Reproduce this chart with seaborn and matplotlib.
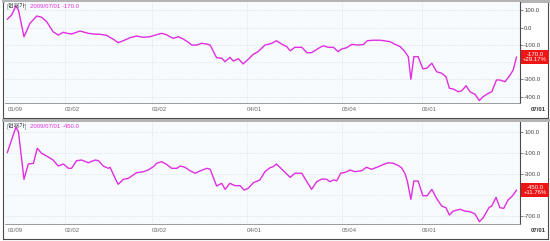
import numpy as np
import pandas as pd
import matplotlib
matplotlib.use("Agg")
import matplotlib.pyplot as plt
import seaborn as sns
from matplotlib.patches import Rectangle

sns.set_theme(style="white")
plt.rcParams['font.family'] = ['Liberation Sans', 'Noto Sans CJK KR', 'DejaVu Sans']

# ---------------- data ----------------
header_label = "[현재가]"
header_date = "2009/07/01"

month_ticks = [0, 13.5, 33.8, 56.0, 78.2, 96.9]
month_labels = ["01/09", "02/02", "03/02", "04/01", "05/04", "06/01"]
end_label = "07/01"

top_day = [0.0, 1.0, 2.0, 2.6, 3.9, 5.3, 6.9, 8.0, 9.2, 10.7, 11.9, 13.1, 13.9, 15.0, 17.0,
           18.9, 20.1, 21.7, 23.2, 24.8, 25.9, 27.1, 28.7, 30.2, 31.8, 33.3, 34.9, 36.1, 37.2,
           38.0, 38.8, 40.0, 41.1, 42.3, 43.1, 44.3, 45.4, 46.6, 47.4, 48.9, 50.1, 50.9, 52.0,
           52.8, 54.0, 55.1, 56.3, 57.5, 58.6, 60.2, 61.8, 62.9, 64.1, 65.3, 66.1, 67.2, 68.8,
           70.0, 71.1, 72.7, 73.8, 75.0, 76.2, 77.3, 78.1, 79.3, 80.5, 82.0, 83.3, 84.1, 85.5,
           87.1, 88.3, 89.4, 90.6, 91.8, 92.9, 93.7, 94.3, 95.0, 96.0, 97.1, 98.0, 99.2, 100.3,
           101.5, 102.5, 103.3, 104.2, 105.4, 106.2, 107.2, 108.1, 109.3, 110.3, 111.2, 112.4,
           113.2, 114.3, 115.1, 116.3, 117.5, 118.2, 119.0]
top_val = [48, 73, 125, 102, -53, 25, 67, 60, 34, -24, -43, -27, -33, -37, -20,
           -33, -37, -39, -45, -68, -87, -76, -58, -49, -56, -53, -41, -33, -41,
           -53, -62, -53, -66, -85, -101, -101, -91, -95, -101, -174, -177, -197, -172,
           -193, -180, -210, -183, -154, -139, -101, -91, -76, -95, -110, -134, -114, -114,
           -145, -145, -120, -105, -114, -114, -139, -124, -116, -97, -101, -97, -76, -73,
           -73, -77, -81, -97, -110, -139, -168, -299, -168, -168, -239, -235, -206, -255,
           -264, -284, -351, -355, -371, -365, -336, -371, -386, -422, -399, -380,
           -371, -303, -303, -313, -274, -245, -170]
top_yticks = [100, 0, -100, -200, -300, -400]
top_hidden = [-200]          # label covered by the last-value box
top_ylim = (-436, 148)
top_last = "-170.0"
top_pct = "+29.17%"

bot_day = [0.0, 1.0, 2.0, 2.6, 3.9, 4.9, 6.1, 7.0, 8.0, 9.2, 10.7, 11.9, 13.1, 14.3, 15.0,
           16.2, 17.4, 18.9, 20.5, 21.3, 22.4, 23.6, 24.0, 25.2, 25.9, 27.1, 28.3, 29.4, 30.2,
           31.8, 32.9, 34.1, 34.9, 36.1, 37.2, 38.4, 39.6, 40.4, 41.5, 42.7, 43.9, 45.0, 46.6,
           47.4, 48.9, 50.1, 50.9, 52.0, 53.2, 54.4, 55.3, 56.3, 57.5, 59.0, 60.2, 61.4, 62.1,
           62.9, 64.5, 66.1, 67.2, 68.8, 70.0, 71.1, 72.3, 73.5, 74.6, 75.4, 76.2, 77.0, 77.9,
           79.0, 80.1, 81.2, 82.8, 83.9, 85.1, 86.7, 87.9, 89.0, 90.2, 91.4, 92.1, 92.9, 93.5,
           94.3, 95.0, 96.0, 97.1, 98.1, 99.2, 100.3, 101.5, 102.5, 103.3, 104.2, 105.8, 106.9,
           108.1, 109.3, 110.3, 111.2, 112.6, 113.2, 114.2, 115.1, 116.0, 117.0, 118.0, 119.0]
bot_val = [-94, 27, 148, 106, -348, -202, -195, -52, -100, -126, -164, -221, -202, -243, -243,
           -170, -164, -190, -164, -170, -221, -243, -233, -338, -395, -348, -338, -307, -285,
           -275, -259, -228, -195, -180, -205, -243, -243, -221, -233, -266, -290, -269, -243,
           -252, -411, -386, -443, -386, -408, -408, -450, -433, -380, -354, -275, -237, -228,
           -202, -266, -329, -290, -290, -370, -443, -370, -345, -348, -370, -354, -361, -290,
           -281, -259, -275, -266, -233, -252, -228, -205, -190, -195, -218, -237, -290, -370,
           -538, -364, -364, -504, -504, -443, -529, -602, -618, -688, -650, -633, -650,
           -656, -678, -751, -713, -614, -602, -519, -618, -624, -545, -507, -450]
bot_yticks = [100, -100, -300, -500, -700]
bot_hidden = [-500]
bot_ylim = (-773, 198)
bot_last = "-450.0"
bot_pct = "+11.76%"

# ---------------- styling ----------------
W, H = 550, 241
LINE = "#e02ee0"
PLOT_BG = "#f7fbfe"
GRID = "#cdd8e3"
BORDER = "#4a4a4a"
FS = 4.3

fig = plt.figure(figsize=(W / 100, H / 100), dpi=100)
fig.patch.set_facecolor("white")


def fx(px):
    return px / W


def fy(py):
    return 1 - py / H


def panel(frame_top, plot_top, plot_bot, frame_bot, days, vals, yticks, hidden, ylim, last, pct):
    # outer frame
    fr = fig.add_axes([fx(3), fy(frame_bot), fx(548) - fx(3), (frame_bot - frame_top) / H])
    fr.set_facecolor("white")
    fr.set_xticks([]); fr.set_yticks([])
    for s in fr.spines.values():
        s.set_color(BORDER); s.set_linewidth(0.8)
    fr.spines["top"].set_color("#b4b4b4"); fr.spines["top"].set_linewidth(2.2)
    fr.set_zorder(0)

    ax = fig.add_axes([fx(5), fy(plot_bot), fx(520) - fx(5), (plot_bot - plot_top) / H])
    ax.set_zorder(1)
    ax.set_facecolor(PLOT_BG)
    for v in yticks:
        ax.axhline(v, color=GRID, lw=0.5, ls=(0, (1, 1.5)), zorder=0)
    for d in month_ticks[1:]:
        ax.axvline(d, color=GRID, lw=0.5, ls=(0, (1, 1.5)), zorder=0)
    df = pd.DataFrame({"day": days, "value": vals})
    sns.lineplot(data=df, x="day", y="value", ax=ax, color=LINE, lw=1.0, zorder=3)
    ax.set_xlim(-0.54, 119.8)
    ax.set_ylim(*ylim)
    ax.set_xlabel(""); ax.set_ylabel("")
    ax.yaxis.tick_right()
    ax.set_yticks(yticks)
    ax.set_yticklabels(["" if v in hidden else f"{v:.1f}" for v in yticks])
    ax.tick_params(axis="y", length=2, width=0.5, color="#555555", labelsize=FS,
                   labelcolor="#444444", pad=1, right=True)
    ax.set_xticks(month_ticks)
    ax.set_xticklabels(month_labels, ha="left")
    ax.tick_params(axis="x", length=0, labelsize=FS, labelcolor="#666666", pad=3)
    ax.spines["top"].set_visible(False)
    ax.spines["left"].set_visible(False)
    ax.spines["right"].set_color(BORDER); ax.spines["right"].set_linewidth(0.8)
    ax.spines["bottom"].set_color("#8a8a8a"); ax.spines["bottom"].set_linewidth(0.6)

    # last value box
    ydisp = ax.transData.transform((0, vals[-1]))[1]
    yfig = ydisp / (fig.dpi * fig.get_figheight())
    fig.add_artist(Rectangle((fx(520.5), yfig - 6.8 / H), fx(549) - fx(520.5), 13.6 / H,
                             transform=fig.transFigure, facecolor="#ee1515",
                             edgecolor="none", zorder=5))
    fig.text(fx(535), yfig, f"{last}\n{pct}", ha="center", va="center", color="white",
             fontsize=FS, linespacing=0.95, zorder=6)

    # end date label
    fig.text(fx(546), fy(plot_bot + 7), end_label, ha="right", va="center",
             fontsize=FS, fontweight="bold", color="#333333")

    # header
    fig.text(fx(6), fy(plot_top + 4), header_label, ha="left", va="center",
             fontsize=FS, color="#444444",
             family=["Noto Sans CJK KR", "Liberation Sans"])
    fig.text(fx(30), fy(plot_top + 4), f"{header_date} {last}", ha="left", va="center",
             fontsize=FS, color=LINE)
    return ax


panel(1, 2, 103, 118, top_day, top_val, top_yticks, top_hidden, top_ylim, top_last, top_pct)
panel(120, 122, 224, 239, bot_day, bot_val, bot_yticks, bot_hidden, bot_ylim, bot_last, bot_pct)

fig.savefig("out.png", dpi=100)
